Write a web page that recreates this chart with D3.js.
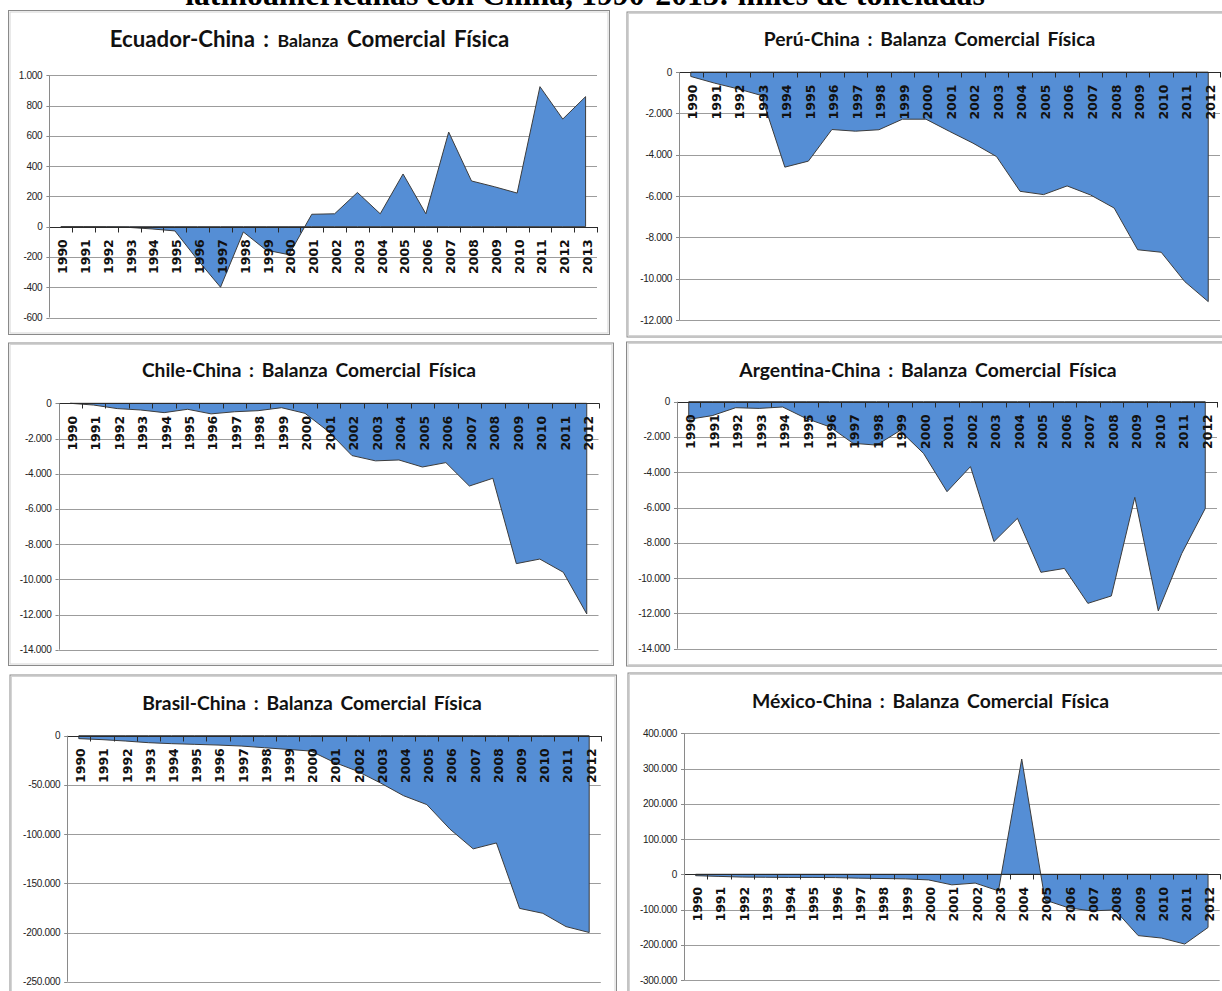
<!DOCTYPE html>
<html>
<head>
<meta charset="utf-8">
<script src="https://cdn.jsdelivr.net/npm/d3@7"></script>
<style>
  body { margin: 0; background: #fff; }
  svg { display: block; }
</style>
</head>
<body>
<div id="chart"></div>
<script>
// categories
const years = ["1990", "1991", "1992", "1993", "1994", "1995", "1996", "1997",
  "1998", "1999", "2000", "2001", "2002", "2003", "2004", "2005", "2006",
  "2007", "2008", "2009", "2010", "2011", "2012"];
const yearsEcuador = years.concat(["2013"]);

// balanza comercial fisica, miles de toneladas
const ecuadorValues = [0, 0, -2, -5, -15, -28, -220, -400, -35, -155, -185, 82,
  85, 226, 85, 348, 85, 625, 302, 264, 222, 925, 711, 859];
const peruValues = [-210, -530, -810, -1130, -4600, -4310, -2780, -2860, -2790,
  -2280, -2280, -2870, -3440, -4090, -5770, -5930, -5510, -5950, -6580, -8600,
  -8720, -10140, -11110];
const chileValues = [0, -100, -300, -380, -530, -340, -600, -480, -420, -250,
  -570, -1600, -2970, -3270, -3220, -3620, -3370, -4700, -4260, -9110, -8850,
  -9600, -11970];
const argentinaValues = [-1000, -790, -340, -380, -300, -950, -1420, -2360,
  -2460, -1640, -2930, -5100, -3680, -7930, -6610, -9670, -9450, -11430, -11010,
  -5420, -11860, -8600, -6050];
const brasilValues = [-3000, -4000, -5400, -7100, -8100, -8800, -9500, -10500,
  -12200, -13900, -15600, -27000, -36000, -48000, -61000, -70000, -95000,
  -115000, -109000, -175500, -180500, -194000, -200000];
const mexicoValues = [-4000, -6000, -8000, -8500, -9000, -9000, -9500, -11000,
  -12000, -13000, -16000, -30000, -25000, -47000, 327000, -73000, -95000,
  -104000, -101000, -174000, -181000, -198000, -151000];

// y tick labels
const ecuadorTicks = [-600, -400, -200, 0, 200, 400, 600, 800, 1000];
const peruTicks = [-12000, -10000, -8000, -6000, -4000, -2000, 0];
const chileTicks = [-14000, -12000, -10000, -8000, -6000, -4000, -2000, 0];
const argentinaTicks = [-14000, -12000, -10000, -8000, -6000, -4000, -2000, 0];
const brasilTicks = [-250000, -200000, -150000, -100000, -50000, 0];
const mexicoTicks = [-300000, -200000, -100000, 0, 100000, 200000, 300000, 400000];

const width = 1222;
const height = 991;

const fmt = d3.formatLocale({
  decimal: ",", thousands: ".", grouping: [3], currency: ["", ""], minus: "-"
}).format(",d");

const svg = d3.select("#chart").append("svg")
  .attr("width", width)
  .attr("height", height);

// fit a text element to a target width by scaling its font size
function fitText(node, target) {
  const w = node.node().getBBox().width;
  const fs = parseFloat(node.attr("font-size"));
  node.attr("font-size", (fs * target / w).toFixed(2));
}

// page heading, mostly cut off at the top
const heading = svg.append("text")
  .attr("x", 585)
  .attr("y", 4.5)
  .attr("text-anchor", "middle")
  .attr("font-family", "'Liberation Serif', 'Times New Roman', serif")
  .attr("font-weight", "bold")
  .attr("font-size", 28)
  .text("latinoamericanas con China, 1990-2013: miles de toneladas");
fitText(heading, 800);

const panels = [
  { name: "Ecuador-China", cats: yearsEcuador, values: ecuadorValues, ticks: ecuadorTicks,
    frame: [8, 10, 609, 334], px: [49.4, 597], py: [317.5, 75.3],
    title: [309.5, 47, 401], small: true },
  { name: "Perú-China", cats: years, values: peruValues, ticks: peruTicks,
    frame: [626.5, 11.5, 1240, 336.5], px: [679, 1220], py: [320, 72.1],
    title: [929.5, 45.5, 331] },
  { name: "Chile-China", cats: years, values: chileValues, ticks: chileTicks,
    frame: [8, 342.5, 613, 665], px: [58.5, 598.5], py: [649.7, 403.3],
    title: [309, 377, 334] },
  { name: "Argentina-China", cats: years, values: argentinaValues, ticks: argentinaTicks,
    frame: [626, 341.5, 1240, 665.5], px: [677, 1217], py: [648.7, 401.7],
    title: [928, 377, 378] },
  { name: "Brasil-China", cats: years, values: brasilValues, ticks: brasilTicks,
    frame: [9.5, 674.5, 616, 1010], px: [67.2, 600.8], py: [981.7, 735.7],
    title: [312, 710, 339] },
  { name: "México-China", cats: years, values: mexicoValues, ticks: mexicoTicks,
    frame: [627.5, 672.5, 1240, 1010], px: [684, 1219.7], py: [980, 733.3],
    title: [930.5, 708, 357] }
];

panels.forEach(function (p) {
  const g = svg.append("g");
  const [fx0, fy0, fx1, fy1] = p.frame;

  // frame with a light inner line
  g.append("rect")
    .attr("x", fx0 + 0.5).attr("y", fy0 + 0.5)
    .attr("width", fx1 - fx0).attr("height", fy1 - fy0)
    .attr("fill", "#fff")
    .attr("stroke", "#8a8a8a");
  g.append("rect")
    .attr("x", fx0 + 2).attr("y", fy0 + 2)
    .attr("width", fx1 - fx0 - 3).attr("height", fy1 - fy0 - 3)
    .attr("fill", "none")
    .attr("stroke", "#d4d4d4");

  const x = d3.scaleBand().domain(p.cats).range(p.px);
  const y = d3.scaleLinear()
    .domain([d3.min(p.ticks), d3.max(p.ticks)])
    .range(p.py);
  const bw = x.bandwidth();
  const y0 = Math.round(y(0)) + 0.5;

  // gridlines
  g.selectAll(".grid")
    .data(p.ticks)
    .enter()
    .append("line")
    .attr("x1", p.px[0]).attr("x2", p.px[1])
    .attr("y1", d => Math.round(y(d)) + 0.5)
    .attr("y2", d => Math.round(y(d)) + 0.5)
    .attr("stroke", "#9c9c9c");

  // area
  const area = d3.area()
    .x((d, i) => x(p.cats[i]) + bw / 2)
    .y0(y(0))
    .y1(d => y(d));
  g.append("path")
    .datum(p.values)
    .attr("d", area)
    .attr("fill", "#558ed5")
    .attr("stroke", "#3c3c3c")
    .attr("stroke-width", 1);

  // x axis at zero with ticks between categories
  g.append("line")
    .attr("x1", p.px[0]).attr("x2", p.px[1] + 1)
    .attr("y1", y0).attr("y2", y0)
    .attr("stroke", "#2a2a2a");
  g.selectAll(".xtick")
    .data(d3.range(p.cats.length + 1))
    .enter()
    .append("line")
    .attr("x1", i => Math.round(p.px[0] + i * bw) + 0.5)
    .attr("x2", i => Math.round(p.px[0] + i * bw) + 0.5)
    .attr("y1", y0).attr("y2", y0 + 5)
    .attr("stroke", "#2a2a2a");

  // y axis
  g.append("line")
    .attr("x1", Math.round(p.px[0]) + 0.5).attr("x2", Math.round(p.px[0]) + 0.5)
    .attr("y1", y(d3.max(p.ticks))).attr("y2", y(d3.min(p.ticks)))
    .attr("stroke", "#8a8a8a");
  g.selectAll(".ytick")
    .data(p.ticks)
    .enter()
    .append("line")
    .attr("x1", p.px[0] - 3).attr("x2", p.px[0])
    .attr("y1", d => Math.round(y(d)) + 0.5)
    .attr("y2", d => Math.round(y(d)) + 0.5)
    .attr("stroke", "#8a8a8a");
  g.selectAll(".ylabel")
    .data(p.ticks)
    .enter()
    .append("text")
    .attr("x", p.px[0] - 7)
    .attr("y", d => y(d))
    .attr("dy", "0.35em")
    .attr("text-anchor", "end")
    .attr("font-family", "'Liberation Sans', Arial, sans-serif")
    .attr("font-size", 10)
    .attr("letter-spacing", -0.3)
    .attr("fill", "#222")
    .text(d => fmt(d));

  // rotated year labels
  g.selectAll(".xlabel")
    .data(p.cats)
    .enter()
    .append("text")
    .attr("transform", d => "translate(" + (x(d) + bw / 2 + 2) + "," + (y(0) + 12.5) + ") rotate(-90)")
    .attr("dy", "0.35em")
    .attr("text-anchor", "end")
    .attr("font-family", "'DejaVu Sans', Verdana, sans-serif")
    .attr("font-weight", "bold")
    .attr("font-size", 12.5)
    .attr("fill", "#111")
    .text(d => d);

  // panel title
  const [tx, ty, tw] = p.title;
  const title = g.append("text")
    .attr("x", tx).attr("y", ty)
    .attr("text-anchor", "middle")
    .attr("font-family", "Lato, 'Open Sans', sans-serif")
    .attr("font-weight", "bold")
    .attr("font-size", 20)
    .attr("word-spacing", 3)
    .attr("fill", "#111");
  if (p.small) {
    title.append("tspan").text(p.name + " : ");
    title.append("tspan").attr("font-size", "0.8em").text("Balanza");
    title.append("tspan").text(" Comercial Física");
  } else {
    title.text(p.name + "  : Balanza Comercial Física");
  }
  fitText(title, tw);
});
</script>
</body>
</html>
